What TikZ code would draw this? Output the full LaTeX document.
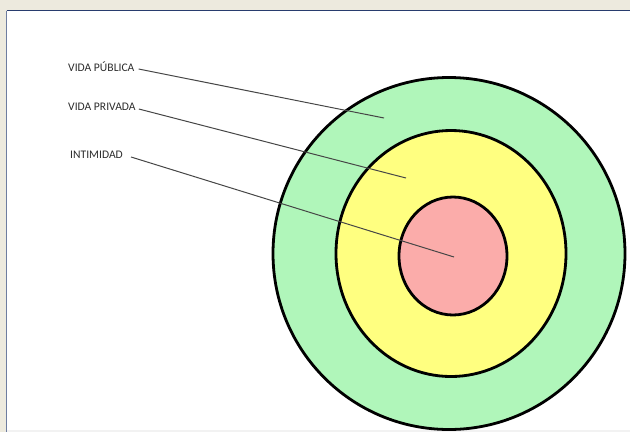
\documentclass[tikz,border=0pt]{standalone}
\usepackage{fontspec}
\setmainfont{Carlito}
\definecolor{bgbeige}{RGB}{237,234,222}
\definecolor{frameblue}{RGB}{40,60,110}
\definecolor{frameleft}{RGB}{110,125,160}
\definecolor{ringgreen}{RGB}{176,246,186}
\definecolor{ringyellow}{RGB}{255,255,128}
\definecolor{ringpink}{RGB}{251,172,170}
\definecolor{leadergray}{RGB}{70,70,70}
\definecolor{labelgray}{RGB}{45,45,45}
\begin{document}
\begin{tikzpicture}[x=1pt,y=-1pt,
  ring/.style={draw=black,line width=2.8pt},
  leader/.style={draw=leadergray,line width=1pt},
  lbl/.style={inner sep=0pt,anchor=west,text=labelgray,font=\fontsize{11.6}{13}\selectfont}]
\useasboundingbox (0,0) rectangle (630,432);
\fill[bgbeige] (0,0) rectangle (630,432);
\fill[white] (7,11) rectangle (630,430);
\fill[black!5] (7,430) rectangle (630,432);
\draw[frameblue,line width=1.2pt] (6.5,10.5) -- (630,10.5);
\draw[frameleft,line width=1.2pt] (6.5,10.5) -- (6.5,432);
% rings
\draw[ring,fill=ringgreen] (449,253.5) ellipse [x radius=176, y radius=176];
\draw[ring,fill=ringyellow] (451,253.5) ellipse [x radius=115, y radius=123];
\draw[ring,fill=ringpink] (453,256) ellipse [x radius=54, y radius=59];
% labels
\node[lbl] (pub) at (68,67) {VIDA PÚBLICA};
\node[lbl] (priv) at (68,107) {VIDA PRIVADA};
\node[lbl] (intim) at (70,155) {INTIMIDAD};
\coordinate (pubend) at (384,118);
\coordinate (privend) at (406,178);
\coordinate (intimend) at (454,257);
\draw[leader] ([xshift=4pt,yshift=-2pt]pub.east) -- (pubend);
\draw[leader] ([xshift=3pt,yshift=-2pt]priv.east) -- (privend);
\draw[leader] ([xshift=8pt,yshift=-2pt]intim.east) -- (intimend);
\end{tikzpicture}
\end{document}
